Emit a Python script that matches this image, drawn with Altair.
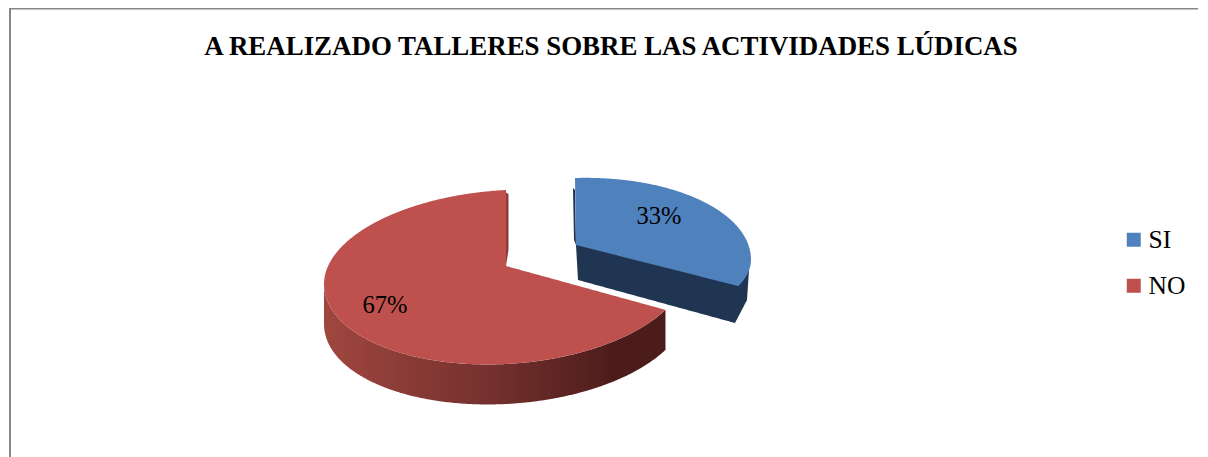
import numpy as np
import pandas as pd
import altair as alt

TITLE = "A REALIZADO TALLERES SOBRE LAS ACTIVIDADES LÚDICAS"
categories = ["SI", "NO"]
shares = [33, 67]
colors = ["#4F81BD", "#BE504D"]
WALL_BLUE = "#1F3552"
FONT = "Liberation Serif"
W, H = 1192, 449


def rim(cx, cy, rx, up, low, shear, t0, t1, n=160):
    t = np.radians(np.linspace(t0, t1, n))
    c = np.cos(t)
    x = cx + rx * np.sin(t)
    y = cy - np.where(c > 0, up, low) * c - shear * (x - cx)
    return x, y


def spans(px, py, name):
    """Vertical extents of a closed outline, one row per x step."""
    px, py = np.asarray(px, float), np.asarray(py, float)
    eps = 1e-3
    xs = np.arange(np.ceil(px.min()), px.max(), 1.0)
    xs = np.unique(np.concatenate([xs, px + eps, px - eps]))
    xs = xs[(xs >= px.min()) & (xs <= px.max())]
    rows = []
    qx, qy = np.roll(px, -1), np.roll(py, -1)
    for v in xs:
        m = (px <= v) != (qx <= v)
        if m.sum() < 2:
            continue
        ys = py[m] + (v - px[m]) / (qx[m] - px[m]) * (qy[m] - py[m])
        rows.append({"x": v, "y": ys.min(), "y2": ys.max(), "slice": name})
    return pd.DataFrame(rows)


# ---- slice geometry derived from the two shares
sweep_si = shares[0] * 3.6
RED = dict(cx=506, cy=275, rx=182, up=85, low=89, shear=0.05)
BLU = dict(cx=575, cy=265, rx=176, up=87, low=70, shear=0.03)
RED_APEX = (506, 266)
BLU_APEX = (576, 245)
RED_DEPTH = 40

rx_, ry_ = rim(**RED, t0=sweep_si, t1=360)
red_top = spans(np.r_[RED_APEX[0], rx_], np.r_[RED_APEX[1], ry_], "NO")
wx, wy = rim(**RED, t0=sweep_si, t1=270)
red_wall = spans(np.r_[wx, wx[::-1]], np.r_[wy, wy[::-1] + RED_DEPTH], "NO")

bx, by = rim(**BLU, t0=0, t1=sweep_si - 7)
blue_top = spans(np.r_[BLU_APEX[0], bx], np.r_[BLU_APEX[1], by], "SI")
# front cut face and the narrowing outer wall of the pulled-out slice
wall_x = [BLU_APEX[0], 740, 749, 747, 735, 578]
wall_y = [BLU_APEX[1], 250, 270, 300, 323, 280]
blue_wall = spans(wall_x, wall_y, "SI")

red_cut = spans([505, 508.5, 508.5, 506], [192, 194, 250, 266], "NO")
blue_cut = spans([573, 575, 576, 574], [188, 190, 245, 240], "SI")

xs = alt.Scale(domain=[8, 8 + W], nice=False, zero=False)
ys = alt.Scale(domain=[8 + H, 8], nice=False, zero=False)
X = alt.X("x:Q", scale=xs, axis=None)
Y = alt.Y("y:Q", scale=ys, axis=None)
Y2 = alt.Y2("y2:Q")


def flat(df, fill):
    return alt.Chart(df).mark_area(fill=fill, interpolate="linear").encode(x=X, y=Y, y2=Y2)


gradient = alt.Gradient(
    gradient="linear", x1=0, x2=1, y1=0, y2=0,
    stops=[
        alt.GradientStop(offset=0, color="#A0463F"),
        alt.GradientStop(offset=0.5, color="#73302D"),
        alt.GradientStop(offset=0.85, color="#4C1C1A"),
        alt.GradientStop(offset=1, color="#4C1C1A"),
    ],
)
red_wall_layer = alt.Chart(red_wall).mark_area(color=gradient, interpolate="linear").encode(x=X, y=Y, y2=Y2)

tops = alt.Chart(pd.concat([blue_top, red_top])).mark_area(interpolate="linear", opacity=1).encode(
    x=X, y=Y, y2=Y2,
    color=alt.Color(
        "slice:N",
        scale=alt.Scale(domain=categories, range=colors),
        legend=alt.Legend(
            title=None, orient="none", legendX=1113, legendY=219,
            symbolType="square", symbolSize=196, symbolStrokeWidth=0, symbolOpacity=1,
            labelFont=FONT, labelFontSize=25.5, labelColor="#000000", labelOffset=2,
            rowPadding=19, padding=0,
        ),
    ),
)

labels = pd.DataFrame({
    "x": [659, 385],
    "y": [217, 306],
    "text": [f"{s}%" for s in shares],
})
text = alt.Chart(labels).mark_text(font=FONT, fontSize=24.5, color="#000000", align="center", baseline="middle").encode(
    x=X, y=Y, text="text:N"
)

border_left = alt.Chart(pd.DataFrame({"a": [0]})).mark_rule(color="#868686", strokeWidth=2).encode(
    x=alt.value(2), y=alt.value(0), y2=alt.value(H)
)
border_top = alt.Chart(pd.DataFrame({"a": [0]})).mark_rule(color="#868686", strokeWidth=2).encode(
    x=alt.value(1), x2=alt.value(1190), y=alt.value(0.5)
)

chart = alt.layer(
    border_left, border_top,
    red_wall_layer, flat(red_cut, "#8E3A37"),
    flat(blue_wall, WALL_BLUE), flat(blue_cut, WALL_BLUE),
    tops, text,
).properties(
    width=W, height=H, padding=0, autosize=alt.AutoSizeParams(type="none"),
    title=alt.Title(TITLE, font=FONT, fontSize=26.9, fontWeight="bold", color="#000000",
                    anchor="middle", dx=7, dy=58),
).configure_view(stroke=None)

chart.save("out.html", embed_options={"renderer": "svg", "actions": False})
